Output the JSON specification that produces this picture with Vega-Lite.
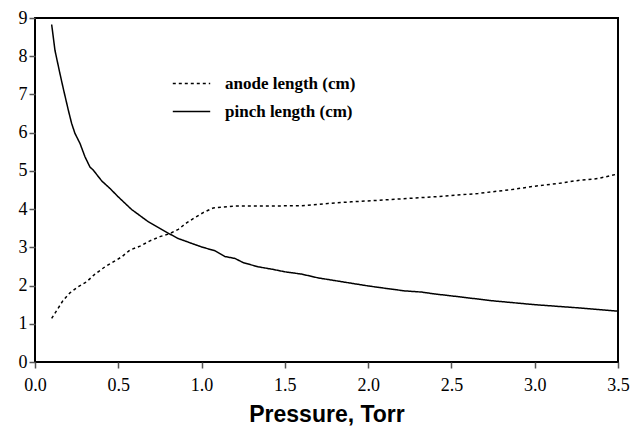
{
  "$schema": "https://vega.github.io/schema/vega-lite/v6.json",
  "width": 583,
  "height": 344,
  "autosize": {"type": "none"},
  "padding": {"left": 35, "top": 18, "right": 14, "bottom": 67},
  "background": "white",
  "config": {
    "view": {"stroke": "black", "strokeWidth": 2},
    "axis": {"grid": false, "domain": false, "labelFont": "Liberation Serif", "labelFontSize": 18, "labelColor": "black"}
  },
  "data": {
    "values": [
      {"p": 0.10, "v": 8.83, "s": "pinch length (cm)"},
      {"p": 0.12, "v": 8.15, "s": "pinch length (cm)"},
      {"p": 0.15, "v": 7.54, "s": "pinch length (cm)"},
      {"p": 0.17, "v": 7.15, "s": "pinch length (cm)"},
      {"p": 0.20, "v": 6.59, "s": "pinch length (cm)"},
      {"p": 0.22, "v": 6.24, "s": "pinch length (cm)"},
      {"p": 0.24, "v": 5.98, "s": "pinch length (cm)"},
      {"p": 0.27, "v": 5.72, "s": "pinch length (cm)"},
      {"p": 0.30, "v": 5.37, "s": "pinch length (cm)"},
      {"p": 0.33, "v": 5.10, "s": "pinch length (cm)"},
      {"p": 0.35, "v": 5.02, "s": "pinch length (cm)"},
      {"p": 0.40, "v": 4.74, "s": "pinch length (cm)"},
      {"p": 0.45, "v": 4.54, "s": "pinch length (cm)"},
      {"p": 0.50, "v": 4.32, "s": "pinch length (cm)"},
      {"p": 0.58, "v": 3.99, "s": "pinch length (cm)"},
      {"p": 0.68, "v": 3.67, "s": "pinch length (cm)"},
      {"p": 0.80, "v": 3.37, "s": "pinch length (cm)"},
      {"p": 0.86, "v": 3.23, "s": "pinch length (cm)"},
      {"p": 1.00, "v": 3.01, "s": "pinch length (cm)"},
      {"p": 1.08, "v": 2.91, "s": "pinch length (cm)"},
      {"p": 1.14, "v": 2.76, "s": "pinch length (cm)"},
      {"p": 1.20, "v": 2.71, "s": "pinch length (cm)"},
      {"p": 1.25, "v": 2.60, "s": "pinch length (cm)"},
      {"p": 1.34, "v": 2.49, "s": "pinch length (cm)"},
      {"p": 1.42, "v": 2.43, "s": "pinch length (cm)"},
      {"p": 1.50, "v": 2.36, "s": "pinch length (cm)"},
      {"p": 1.60, "v": 2.30, "s": "pinch length (cm)"},
      {"p": 1.70, "v": 2.20, "s": "pinch length (cm)"},
      {"p": 1.80, "v": 2.13, "s": "pinch length (cm)"},
      {"p": 1.90, "v": 2.06, "s": "pinch length (cm)"},
      {"p": 2.00, "v": 1.99, "s": "pinch length (cm)"},
      {"p": 2.10, "v": 1.93, "s": "pinch length (cm)"},
      {"p": 2.22, "v": 1.86, "s": "pinch length (cm)"},
      {"p": 2.32, "v": 1.83, "s": "pinch length (cm)"},
      {"p": 2.40, "v": 1.78, "s": "pinch length (cm)"},
      {"p": 2.50, "v": 1.73, "s": "pinch length (cm)"},
      {"p": 2.75, "v": 1.60, "s": "pinch length (cm)"},
      {"p": 3.00, "v": 1.50, "s": "pinch length (cm)"},
      {"p": 3.25, "v": 1.42, "s": "pinch length (cm)"},
      {"p": 3.50, "v": 1.33, "s": "pinch length (cm)"},
      {"p": 0.10, "v": 1.14, "s": "anode length (cm)"},
      {"p": 0.17, "v": 1.62, "s": "anode length (cm)"},
      {"p": 0.21, "v": 1.81, "s": "anode length (cm)"},
      {"p": 0.26, "v": 1.97, "s": "anode length (cm)"},
      {"p": 0.31, "v": 2.10, "s": "anode length (cm)"},
      {"p": 0.36, "v": 2.30, "s": "anode length (cm)"},
      {"p": 0.42, "v": 2.49, "s": "anode length (cm)"},
      {"p": 0.47, "v": 2.62, "s": "anode length (cm)"},
      {"p": 0.52, "v": 2.75, "s": "anode length (cm)"},
      {"p": 0.57, "v": 2.93, "s": "anode length (cm)"},
      {"p": 0.63, "v": 3.03, "s": "anode length (cm)"},
      {"p": 0.69, "v": 3.17, "s": "anode length (cm)"},
      {"p": 0.75, "v": 3.28, "s": "anode length (cm)"},
      {"p": 0.81, "v": 3.36, "s": "anode length (cm)"},
      {"p": 0.86, "v": 3.47, "s": "anode length (cm)"},
      {"p": 0.91, "v": 3.64, "s": "anode length (cm)"},
      {"p": 0.96, "v": 3.78, "s": "anode length (cm)"},
      {"p": 1.01, "v": 3.91, "s": "anode length (cm)"},
      {"p": 1.07, "v": 4.03, "s": "anode length (cm)"},
      {"p": 1.20, "v": 4.08, "s": "anode length (cm)"},
      {"p": 1.40, "v": 4.08, "s": "anode length (cm)"},
      {"p": 1.60, "v": 4.09, "s": "anode length (cm)"},
      {"p": 1.70, "v": 4.12, "s": "anode length (cm)"},
      {"p": 1.76, "v": 4.15, "s": "anode length (cm)"},
      {"p": 1.90, "v": 4.19, "s": "anode length (cm)"},
      {"p": 2.06, "v": 4.23, "s": "anode length (cm)"},
      {"p": 2.24, "v": 4.28, "s": "anode length (cm)"},
      {"p": 2.46, "v": 4.34, "s": "anode length (cm)"},
      {"p": 2.66, "v": 4.41, "s": "anode length (cm)"},
      {"p": 2.86, "v": 4.51, "s": "anode length (cm)"},
      {"p": 3.00, "v": 4.60, "s": "anode length (cm)"},
      {"p": 3.14, "v": 4.67, "s": "anode length (cm)"},
      {"p": 3.24, "v": 4.74, "s": "anode length (cm)"},
      {"p": 3.38, "v": 4.80, "s": "anode length (cm)"},
      {"p": 3.50, "v": 4.92, "s": "anode length (cm)"}
    ]
  },
  "mark": {"type": "line", "color": "black", "strokeWidth": 1.5},
  "encoding": {
    "x": {
      "field": "p", "type": "quantitative",
      "scale": {"domain": [0, 3.5], "nice": false},
      "axis": {
        "values": [0, 0.5, 1, 1.5, 2, 2.5, 3, 3.5],
        "format": ".1f",
        "title": "Pressure, Torr",
        "titleFont": "Liberation Sans", "titleFontSize": 23, "titleFontWeight": "bold",
        "titleColor": "black", "titlePadding": 9,
        "labelFont": "Liberation Serif", "labelFontSize": 18, "labelColor": "black",
        "labelPadding": 8, "tickSize": 6, "tickColor": "#555", "tickWidth": 1.5,
        "labelFlush": false, "labelOverlap": false
      }
    },
    "y": {
      "field": "v", "type": "quantitative",
      "scale": {"domain": [0, 9], "nice": false},
      "axis": {
        "values": [0, 1, 2, 3, 4, 5, 6, 7, 8, 9],
        "title": null,
        "labelFont": "Liberation Serif", "labelFontSize": 18, "labelColor": "black",
        "labelPadding": 2, "tickSize": 6, "tickColor": "#555", "tickWidth": 1.5
      }
    },
    "strokeDash": {
      "field": "s", "type": "nominal",
      "scale": {"domain": ["anode length (cm)", "pinch length (cm)"], "range": [[3, 3], [1, 0]]},
      "legend": {
        "title": null, "orient": "none", "legendX": 137, "legendY": 46,
        "symbolType": "stroke", "symbolSize": 1400, "symbolStrokeColor": "black",
        "symbolStrokeWidth": 1.5,
        "labelFont": "Liberation Serif", "labelFontSize": 17, "labelFontWeight": "bold",
        "labelColor": "black", "rowPadding": -8, "labelOffset": 14
      }
    }
  }
}
